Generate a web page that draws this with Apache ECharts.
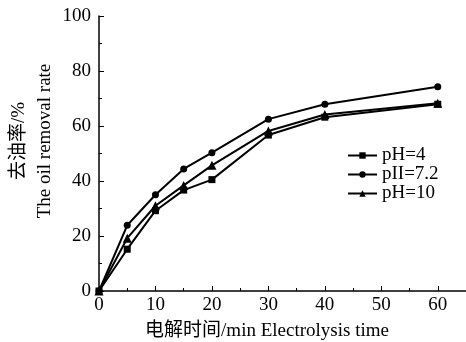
<!DOCTYPE html>
<html>
<head>
<meta charset="utf-8">
<script src="https://cdn.jsdelivr.net/npm/echarts@6/dist/echarts.min.js"></script>
<style>
  html, body { margin: 0; padding: 0; background: #fff; }
  #chart { width: 466px; height: 342px; }
</style>
</head>
<body>
<div id="chart"></div>
<script>
const times = [0, 5, 10, 15, 20, 30, 40, 60];
const ph4 = [0, 15.2, 29.2, 36.7, 40.5, 56.7, 63.2, 67.9];
const ph72 = [0, 23.9, 35.0, 44.4, 50.3, 62.5, 67.9, 74.3];
const ph10 = [0, 19.2, 31.0, 38.4, 45.7, 58.2, 64.2, 68.3];
const seriesNames = ["pH=4", "pII=7.2", "pH=10"];

const serif = "'Liberation Serif', 'Times New Roman', serif";
const cjk = "'Liberation Serif', 'Noto Sans CJK SC', serif";

const pairs = (ys) => times.map((t, i) => [t, ys[i]]);

const chart = echarts.init(document.getElementById("chart"));

function lineSeries(name, ys, symbol, size) {
  return {
    name: name,
    type: "line",
    data: pairs(ys),
    symbol: symbol,
    symbolSize: size,
    showSymbol: true,
    lineStyle: { color: "#000", width: 2 },
    itemStyle: { color: "#000" },
    animation: false,
  };
}

const option = {
  animation: false,
  grid: { left: 99, right: 0, top: 16, bottom: 51, containLabel: false, outerBoundsMode: "none" },
  legend: {
    orient: "vertical",
    left: 342,
    top: 141,
    itemWidth: 29,
    itemHeight: 8,
    itemGap: 0,
    textStyle: { fontFamily: serif, fontSize: 19, color: "#000", padding: [0, 0, 0, 0] },
    data: seriesNames,
  },
  xAxis: {
    type: "value",
    min: 0,
    max: 65,
    interval: 10,
    axisLine: { lineStyle: { color: "#000", width: 1.5 } },
    axisTick: { inside: true, length: 5, lineStyle: { color: "#000" } },
    minorTick: { show: true, splitNumber: 2, length: 3, lineStyle: { color: "#000" } },
    splitLine: { show: false },
    axisLabel: {
      fontFamily: serif, fontSize: 19, color: "#000", margin: 5,
      formatter: (v) => (v > 60 ? "" : String(v)),
    },
  },
  yAxis: {
    type: "value",
    min: 0,
    max: 100,
    interval: 20,
    axisLine: { show: true, lineStyle: { color: "#000", width: 1.5 } },
    axisTick: { inside: true, length: 5, lineStyle: { color: "#000" } },
    minorTick: { show: true, splitNumber: 2, length: 3, lineStyle: { color: "#000" } },
    splitLine: { show: false },
    axisLabel: { fontFamily: serif, fontSize: 19, color: "#000", margin: 8 },
  },
  graphic: [
    {
      type: "text",
      x: 267,
      y: 331,
      style: {
        text: "电解时间/min Electrolysis time",
        font: "19px " + cjk,
        fill: "#000",
        align: "center",
        verticalAlign: "middle",
      },
    },
    {
      type: "text",
      x: 19,
      y: 141,
      rotation: Math.PI / 2,
      style: {
        text: "去油率/%",
        font: "19px " + cjk,
        fill: "#000",
        align: "center",
        verticalAlign: "middle",
      },
    },
    {
      type: "text",
      x: 45,
      y: 141,
      rotation: Math.PI / 2,
      style: {
        text: "The oil removal rate",
        font: "19px " + serif,
        fill: "#000",
        align: "center",
        verticalAlign: "middle",
      },
    },
  ],
  series: [
    lineSeries(seriesNames[0], ph4, "rect", 7),
    lineSeries(seriesNames[1], ph72, "circle", 7),
    lineSeries(seriesNames[2], ph10, "triangle", 9),
  ],
};

chart.setOption(option);
</script>
</body>
</html>
